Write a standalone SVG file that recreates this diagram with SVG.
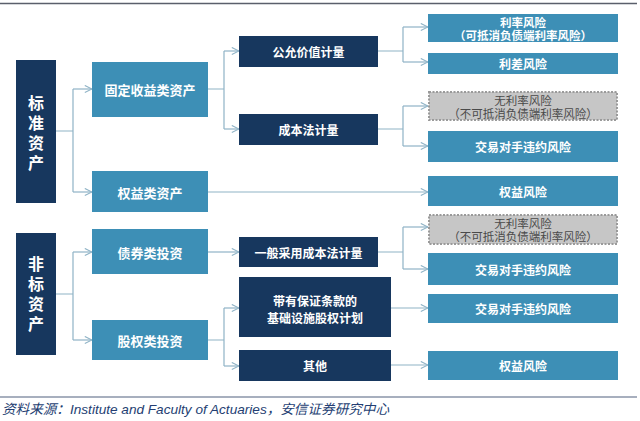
<svg xmlns="http://www.w3.org/2000/svg" width="640" height="421" viewBox="0 0 640 421">
<defs>
<marker id="arr" viewBox="0 0 10 10" refX="9" refY="5" markerWidth="9" markerHeight="9" markerUnits="userSpaceOnUse" orient="auto">
<path d="M1,1 L9,5 L1,9" fill="none" stroke="#8fb3c6" stroke-width="1.2"/>
</marker>
</defs>
<style>
.dark{fill:#17375e}
.lb{fill:#3d8fb6}
.gr{fill:#c6c6c6;stroke:#9a9a9a;stroke-width:2;stroke-dasharray:2 1.5}
.t{font-family:"Noto Sans CJK SC","Noto Sans",sans-serif;font-weight:bold;fill:#fff;text-anchor:middle;dominant-baseline:central}
.v{font-family:"Noto Sans CJK SC","Noto Sans",sans-serif;font-weight:bold;fill:#fff;font-size:16px;writing-mode:vertical-rl;text-anchor:middle;letter-spacing:4px}
.t11{font-size:11.5px}
.t12{font-size:12px}
.t13{font-size:13px}
.g{font-family:"Noto Sans CJK SC","Noto Sans",sans-serif;font-size:11.5px;fill:#4a4a4a;text-anchor:middle;dominant-baseline:central}
.c{fill:none;stroke:#8fb3c6;stroke-width:1.2}
.a{marker-end:url(#arr)}
</style>
<line x1="0" y1="3.5" x2="637" y2="3.5" stroke="#5a5f6b" stroke-width="1.5"/>
<line x1="0" y1="397" x2="637" y2="397" stroke="#8a94a8" stroke-width="1.5"/>

<g id="connectors">
<path class="c" d="M56,131 H73 M73,89 V192"/>
<path class="c a" d="M73,89 H92"/>
<path class="c a" d="M73,192 H92"/>
<path class="c" d="M208,89 H224 M224,51 V129"/>
<path class="c a" d="M224,51 H239"/>
<path class="c a" d="M224,129 H239"/>
<path class="c" d="M378,51 H403 M403,27 V62"/>
<path class="c a" d="M403,27 H428"/>
<path class="c a" d="M403,62 H428"/>
<path class="c" d="M378,129 H403 M403,106 V146"/>
<path class="c a" d="M403,106 H428"/>
<path class="c a" d="M403,146 H428"/>
<path class="c a" d="M208,192 H428"/>
<path class="c" d="M56,294 H73 M73,252 V340"/>
<path class="c a" d="M73,252 H92"/>
<path class="c a" d="M73,340 H92"/>
<path class="c a" d="M208,252 H239"/>
<path class="c" d="M208,340 H224 M224,308 V366"/>
<path class="c a" d="M224,308 H239"/>
<path class="c a" d="M224,366 H239"/>
<path class="c" d="M378,252 H403 M403,227 V269"/>
<path class="c a" d="M403,227 H428"/>
<path class="c a" d="M403,269 H428"/>
<path class="c a" d="M391,308 H428"/>
<path class="c a" d="M391,365 H428"/>
</g>

<g id="standard">
<rect class="dark" x="16" y="60" width="40" height="143"/>
<text class="v" x="36" y="135">标准资产</text>
</g>
<g id="nonstandard">
<rect class="dark" x="16" y="233" width="40" height="122"/>
<text class="v" x="36" y="296">非标资产</text>
</g>
<g id="fixed-income">
<rect class="lb" x="92" y="62" width="116" height="55"/>
<text class="t t13" x="150" y="89.5">固定收益类资产</text>
</g>
<g id="equity-assets">
<rect class="lb" x="92" y="171" width="116" height="41"/>
<text class="t t13" x="150" y="192">权益类资产</text>
</g>
<g id="bond-invest">
<rect class="lb" x="92" y="229" width="116" height="45"/>
<text class="t t13" x="150" y="252">债券类投资</text>
</g>
<g id="equity-invest">
<rect class="lb" x="92" y="320" width="116" height="40"/>
<text class="t t13" x="150" y="340">股权类投资</text>
</g>
<g id="fair-value">
<rect class="dark" x="239" y="36" width="139" height="31"/>
<text class="t t12" x="308.5" y="51.5">公允价值计量</text>
</g>
<g id="cost-method">
<rect class="dark" x="239" y="114" width="139" height="31"/>
<text class="t t12" x="308.5" y="129.5">成本法计量</text>
</g>
<g id="general-cost">
<rect class="dark" x="239" y="237" width="139" height="30"/>
<text class="t t12" x="308.5" y="252">一般采用成本法计量</text>
</g>
<g id="infra">
<rect class="dark" x="239" y="277" width="152" height="60"/>
<text class="t t12" x="315" y="300.5">带有保证条款的<tspan x="315" dy="16">基础设施股权计划</tspan></text>
</g>
<g id="other">
<rect class="dark" x="239" y="350" width="152" height="31"/>
<text class="t t12" x="315" y="365.5">其他</text>
</g>
<g id="rate-risk">
<rect class="lb" x="428" y="14" width="190" height="28"/>
<text class="t t11" x="523" y="21.5">利率风险<tspan x="523" dy="13.5">（可抵消负债端利率风险）</tspan></text>
</g>
<g id="spread-risk">
<rect class="lb" x="428" y="53" width="190" height="21"/>
<text class="t t12" x="523" y="63.5">利差风险</text>
</g>
<g id="no-rate-risk-1">
<rect class="gr" x="429" y="92" width="188" height="28"/>
<text class="g" x="523" y="99.5">无利率风险<tspan x="523" dy="13.5">（不可抵消负债端利率风险）</tspan></text>
</g>
<g id="counterparty-1">
<rect class="lb" x="428" y="131" width="190" height="31"/>
<text class="t t12" x="523" y="146.5">交易对手违约风险</text>
</g>
<g id="equity-risk-1">
<rect class="lb" x="428" y="176" width="190" height="30"/>
<text class="t t12" x="523" y="191">权益风险</text>
</g>
<g id="no-rate-risk-2">
<rect class="gr" x="429" y="215" width="188" height="29"/>
<text class="g" x="523" y="222.5">无利率风险<tspan x="523" dy="13.5">（不可抵消负债端利率风险）</tspan></text>
</g>
<g id="counterparty-2">
<rect class="lb" x="428" y="253" width="190" height="32"/>
<text class="t t12" x="523" y="269">交易对手违约风险</text>
</g>
<g id="counterparty-3">
<rect class="lb" x="428" y="294" width="190" height="29"/>
<text class="t t12" x="523" y="308.5">交易对手违约风险</text>
</g>
<g id="equity-risk-2">
<rect class="lb" x="428" y="351" width="190" height="29"/>
<text class="t t12" x="523" y="365.5">权益风险</text>
</g>

<text x="2" y="414" font-family="'Liberation Sans','Noto Sans CJK SC',sans-serif" font-style="italic" font-size="13.6" fill="#243e72">资料来源：Institute and Faculty of Actuaries，安信证券研究中心</text>
</svg>
